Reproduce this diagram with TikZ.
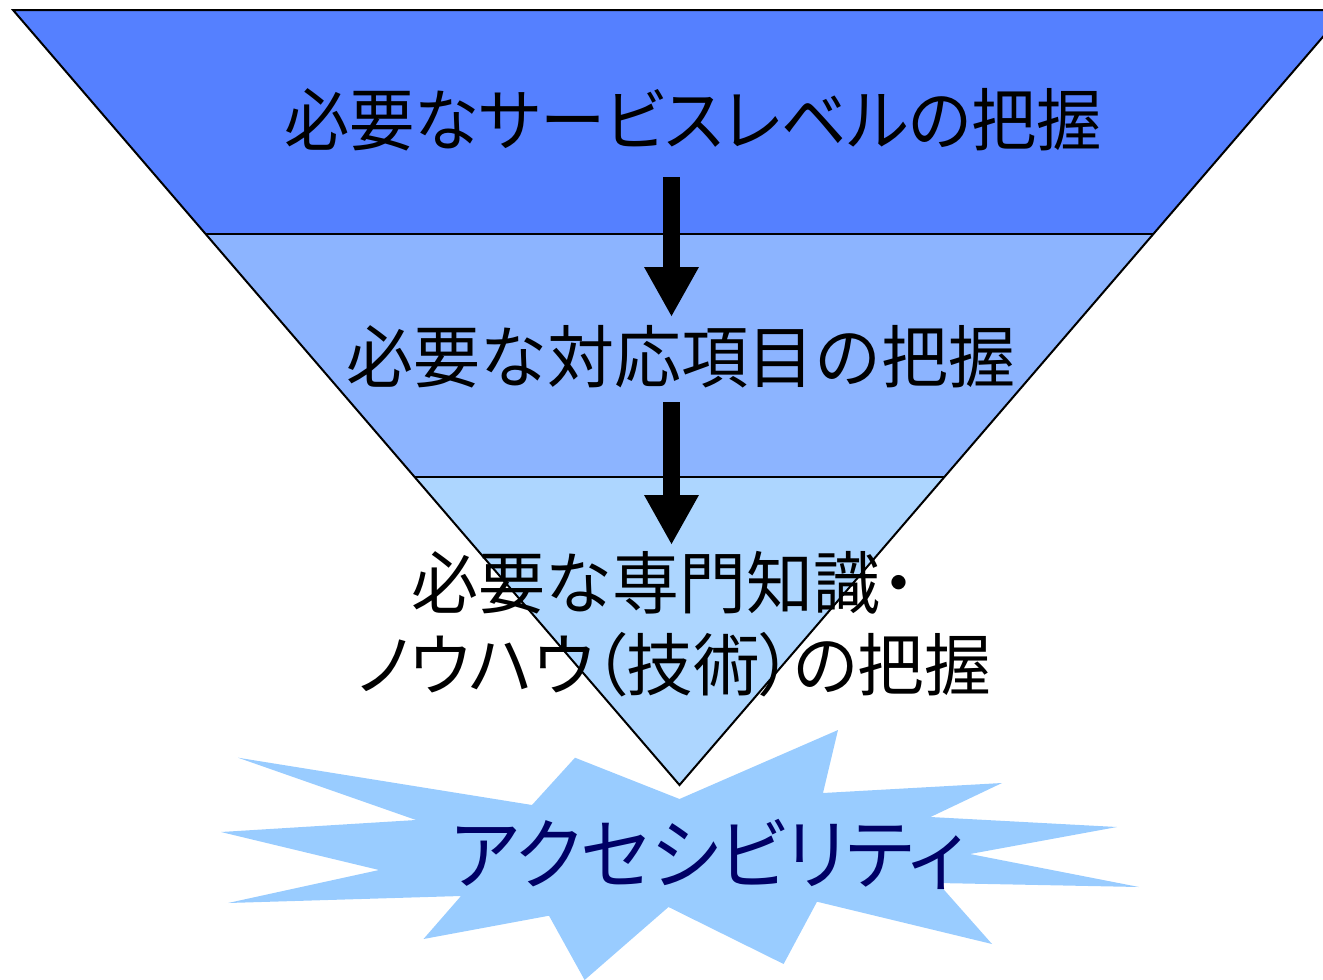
\documentclass[tikz,border=0pt]{standalone}
\usepackage{fontspec}
\usepackage{graphicx}
\newfontfamily\jp{Noto Sans CJK JP}
\newfontfamily\jpp[RawFeature=+palt]{Noto Sans CJK JP}
\usetikzlibrary{arrows.meta}
\definecolor{bandA}{RGB}{85,128,255}
\definecolor{bandB}{RGB}{140,180,255}
\definecolor{bandC}{RGB}{173,214,255}
\definecolor{burst}{RGB}{153,204,255}
\definecolor{navy}{RGB}{0,0,102}
\tikzset{
  bandtext/.style={inner sep=0pt, anchor=base, text=black},
  bursttext/.style={inner sep=0pt, anchor=base, text=navy},
  blockarrow/.style={line width=17pt, draw=black, -{Triangle[width=51pt,length=50pt]}},
  sepline/.style={draw=black, line width=1.2pt},
  outline/.style={draw=black, line width=2pt, line join=miter}
}
\begin{document}
\begin{tikzpicture}[x=1pt,y=-1pt]
\useasboundingbox (0,0) rectangle (1323,980);
\begin{scope}
\clip (0,0) rectangle (1323,980);
% triangle geometry
\coordinate (TL) at (13,10);
\coordinate (TR) at (1346,10);
\coordinate (AP) at (679.5,785);
\coordinate (L1) at (205.6,234);
\coordinate (R1) at (1153.4,234);
\coordinate (L2) at (414.6,477);
\coordinate (R2) at (944.4,477);
% starburst
\fill[burst] (238,757.7) -- (416,820) -- (221,832) -- (379,870) -- (228,903)
  -- (461,896) -- (423.5,939) -- (549,915.7) -- (584.6,980) -- (668.5,907)
  -- (783.6,964) -- (817,901.7) -- (992,944) -- (938,883) -- (1139,887)
  -- (970,854) -- (1117,827) -- (930.5,817) -- (1002,783) -- (823,793)
  -- (838,730) -- (679.5,799) -- (575,757.7) -- (532,805) -- cycle;
% bands
\fill[bandA] (TL) -- (TR) -- (R1) -- (L1) -- cycle;
\fill[bandB] (L1) -- (R1) -- (R2) -- (L2) -- cycle;
\fill[bandC] (L2) -- (R2) -- (AP) -- cycle;
\draw[sepline] (L1) -- (R1);
\draw[sepline] (L2) -- (R2);
\draw[outline] (TL) -- (TR) -- (AP) -- cycle;
% arrows
\coordinate (a1s) at (671.5,177);
\coordinate (a1e) at (671.5,317);
\coordinate (a2s) at (671.5,402);
\coordinate (a2e) at (671.5,545);
\draw[blockarrow] (a1s) -- (a1e);
\draw[blockarrow] (a2s) -- (a2e);
% texts
\node[bandtext] (t1) at (693,145) {\scalebox{0.96}[1]{\jpp\fontsize{68}{82}\selectfont 必要なサービスレベルの把握}};
\node[bandtext] (t2) at (681,382) {\scalebox{0.985}[1]{\jp\fontsize{68}{82}\selectfont 必要な対応項目の把握}};
\node[bandtext] (t3a) at (672,608) {\scalebox{0.985}[1]{\jp\fontsize{68}{82}\selectfont 必要な専門知識\kern-0.22em・}};
\node[bandtext] (t3b) at (674,690) {\scalebox{0.98}[1]{\jpp\fontsize{68}{82}\selectfont ノウハウ（技術）の把握}};
\node[bursttext] (t4) at (708,883) {\scalebox{0.94}[1]{\jpp\fontsize{78}{90}\selectfont アクセシビリティ}};
\end{scope}
\end{tikzpicture}
\end{document}
